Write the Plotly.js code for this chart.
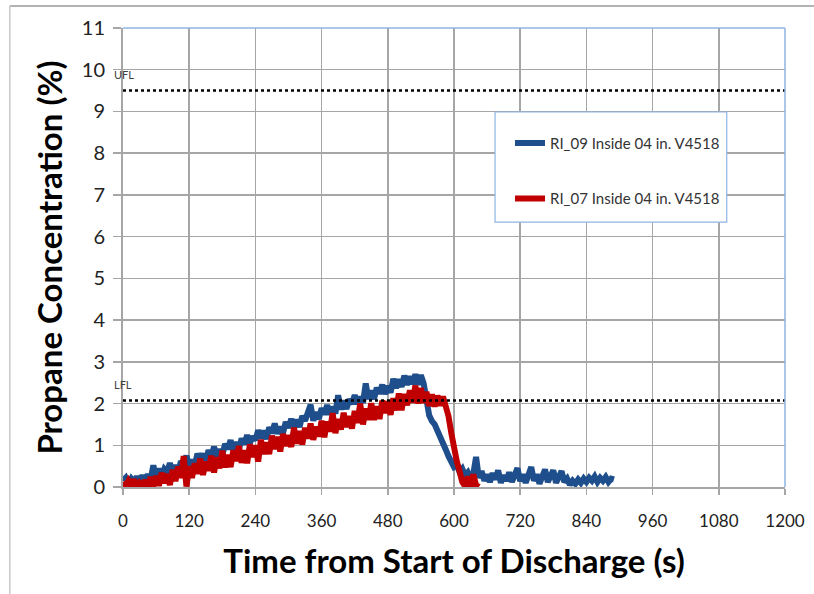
<!DOCTYPE html>
<html>
<head>
<meta charset="utf-8">
<script src="https://cdn.plot.ly/plotly-3.0.1.min.js"></script>
<style>html,body{margin:0;padding:0;background:#fff;}#chart{width:814px;height:594px;}</style>
</head>
<body>
<div id="chart"></div>
<script>
// Time (s) sampled every 5 s
const timeBlue = [];
for (let t = 0; t <= 890; t += 5) timeBlue.push(t);
const timeRed = [];
for (let t = 0; t <= 645; t += 5) timeRed.push(t);

// RI_09 Inside 04 in. V4518 (%)
const ri09 = [
0.15,0.22,0.08,0.20,0.12,0.25,0.10,0.28,0.15,0.30,0.18,0.52,
0.22,0.44,0.23,0.43,0.36,0.57,0.35,0.52,0.36,0.62,0.53,0.75,
0.50,0.65,0.52,0.80,0.63,0.80,0.59,0.88,0.74,0.96,0.73,0.90,
0.76,1.03,0.91,1.12,0.89,1.07,0.90,1.16,1.03,1.24,1.05,1.21,
1.12,1.36,1.16,1.35,1.15,1.43,1.29,1.52,1.28,1.44,1.29,1.56,
1.42,1.63,1.44,1.61,1.44,1.70,1.59,1.80,1.97,1.59,1.79,1.63,
1.89,1.74,1.96,1.74,1.92,1.76,2.20,1.86,2.07,1.87,2.10,1.99,
2.20,1.99,2.16,2.02,2.48,2.11,2.31,2.11,2.38,2.24,2.45,2.23,
2.42,2.26,2.59,2.37,2.58,2.40,2.67,2.45,2.65,2.47,2.70,2.45,
2.68,2.48,2.05,1.72,1.58,1.50,1.35,1.22,1.05,0.90,0.74,0.62,
0.48,0.52,0.36,0.44,0.28,0.35,0.20,0.32,0.72,0.22,0.38,0.15,
0.30,0.12,0.33,0.18,0.40,0.10,0.28,0.15,0.35,0.12,0.25,0.45,
0.14,0.30,0.10,0.25,0.48,0.15,0.30,0.08,0.22,0.42,0.12,0.28,
0.40,0.10,0.25,0.38,0.12,0.20,0.05,0.15,0.08,0.18,0.10,0.20,
0.12,0.22,0.15,0.25,0.12,0.22,0.15,0.24,0.12,0.20,0.18
];

// RI_07 Inside 04 in. V4518 (%)
const ri07 = [
0.12,0.02,0.15,0.05,0.18,0.00,0.10,0.03,0.16,0.01,0.24,0.02,
0.26,0.03,0.34,0.09,0.31,0.05,0.41,0.14,0.49,0.22,0.74,0.01,
0.50,0.22,0.57,0.32,0.68,0.29,0.61,0.39,0.75,0.35,0.71,0.45,
0.87,0.47,0.77,0.48,0.88,0.62,0.98,0.58,0.88,0.57,1.02,0.72,
1.00,0.61,1.13,0.79,1.07,0.79,1.23,0.91,1.20,0.85,1.27,0.98,
1.24,0.96,1.42,1.04,1.34,1.02,1.42,1.16,1.52,1.13,1.45,1.21,
1.59,1.19,1.57,1.33,1.77,1.29,1.63,1.38,1.78,1.44,1.70,1.40,
1.82,1.54,2.00,1.50,1.88,1.61,2.01,1.61,1.93,1.63,2.07,1.77,
2.05,1.73,2.13,1.84,2.24,1.84,2.23,1.96,2.32,2.02,2.43,2.00,
2.37,2.02,2.28,1.94,2.22,1.93,2.19,1.95,2.17,1.95,1.70,1.30,
0.92,0.62,0.38,0.12,0.02,0.25,0.00,0.30,0.05,0.00
];

const seriesNames = ['RI_09 Inside 04 in. V4518', 'RI_07 Inside 04 in. V4518'];
const seriesColors = ['#1f4e8c', '#c00000'];

// Flammability limits (%)
const limitNames = ['UFL', 'LFL'];
const limitValues = [9.5, 2.07];
const xRange = [0, 1200];

const xTicks = [0,120,240,360,480,600,720,840,960,1080,1200];
const yTicks = [0,1,2,3,4,5,6,7,8,9,10,11];

const traces = [
  {x: timeBlue, y: ri09, type: 'scatter', mode: 'lines', name: seriesNames[0],
   line: {color: seriesColors[0], width: 6}, legendgroup: 'a'},
  {x: timeRed, y: ri07, type: 'scatter', mode: 'lines', name: seriesNames[1],
   line: {color: seriesColors[1], width: 6}, legendgroup: 'b'}
];
limitValues.forEach((v, i) => {
  traces.push({x: xRange, y: [v, v], type: 'scatter', mode: 'lines', showlegend: false,
    hoverinfo: 'skip', line: {color: '#000', width: 2.5, dash: 'dot'}});
});

const annotations = limitValues.map((v, i) => ({
  x: 0, y: v, xref: 'x', yref: 'y', text: limitNames[i], showarrow: false,
  xanchor: 'left', yanchor: 'bottom', xshift: -11, yshift: 8,
  font: {family: 'Lato, sans-serif', size: 11, color: '#404040'}
}));

const layout = {
  width: 814, height: 594,
  margin: {l: 123, r: 29, t: 28, b: 107},
  paper_bgcolor: '#fff', plot_bgcolor: '#fff',
  showlegend: true,
  legend: {
    x: 0.5846, y: 0.785, xanchor: 'left', yanchor: 'top',
    bgcolor: 'rgba(0,0,0,0)', borderwidth: 0,
    font: {family: 'Lato, sans-serif', size: 15, color: '#333'},
    tracegroupgap: 33, traceorder: 'grouped'
  },
  xaxis: {
    range: xRange, tickvals: xTicks, ticktext: xTicks.map(String),
    showgrid: true, gridcolor: '#a6a6a6', gridwidth: 1.5,
    zeroline: false, showline: true, linecolor: '#a6a6a6', linewidth: 2,
    ticks: 'outside', ticklen: 6, tickcolor: '#a6a6a6', tickwidth: 1.5,
    ticklabelstandoff: 12,
    tickfont: {family: 'Lato, sans-serif', size: 17, color: '#222'},
    title: {text: 'Time from Start of Discharge (s)', standoff: 19,
      font: {family: 'Lato, sans-serif', size: 33, color: '#000', weight: 'bold'}}
  },
  yaxis: {
    range: [0, 11], tickvals: yTicks, ticktext: yTicks.map(String),
    showgrid: true, gridcolor: '#a6a6a6', gridwidth: 1.5,
    zeroline: false, showline: true, linecolor: '#a6a6a6', linewidth: 2,
    ticks: 'outside', ticklen: 8, tickcolor: '#a6a6a6', tickwidth: 1.5,
    ticklabelstandoff: 4,
    tickfont: {family: 'Lato, sans-serif', size: 20, color: '#222'},
    title: {text: 'Propane Concentration (%)', standoff: 9,
      font: {family: 'Lato, sans-serif', size: 33, color: '#000', weight: 'bold'}}
  },
  shapes: [
    {type: 'rect', xref: 'paper', yref: 'paper', x0: 0.562, x1: 0.912, y0: 0.577, y1: 0.817,
     fillcolor: '#fff', line: {color: '#8eb4e3', width: 1.2}, layer: 'above'},
    {type: 'line', xref: 'paper', yref: 'paper', x0: 0, x1: 1, y0: 1, y1: 1,
     line: {color: '#8eb4e3', width: 1.5}},
    {type: 'line', xref: 'paper', yref: 'paper', x0: 1, x1: 1, y0: 0, y1: 1,
     line: {color: '#8eb4e3', width: 1.5}},
    {type: 'line', xref: 'paper', yref: 'paper', x0: -0.171, x1: 1.1, y0: 1.0480, y1: 1.0480,
     line: {color: '#9a9a9a', width: 1.5}},
    {type: 'line', xref: 'paper', yref: 'paper', x0: -0.171, x1: -0.171, y0: -0.3, y1: 1.0480,
     line: {color: '#c8c8c8', width: 1.5}}
  ],
  annotations: annotations
};

Plotly.newPlot('chart', traces, layout, {displayModeBar: false, staticPlot: true});
</script>
</body>
</html>
